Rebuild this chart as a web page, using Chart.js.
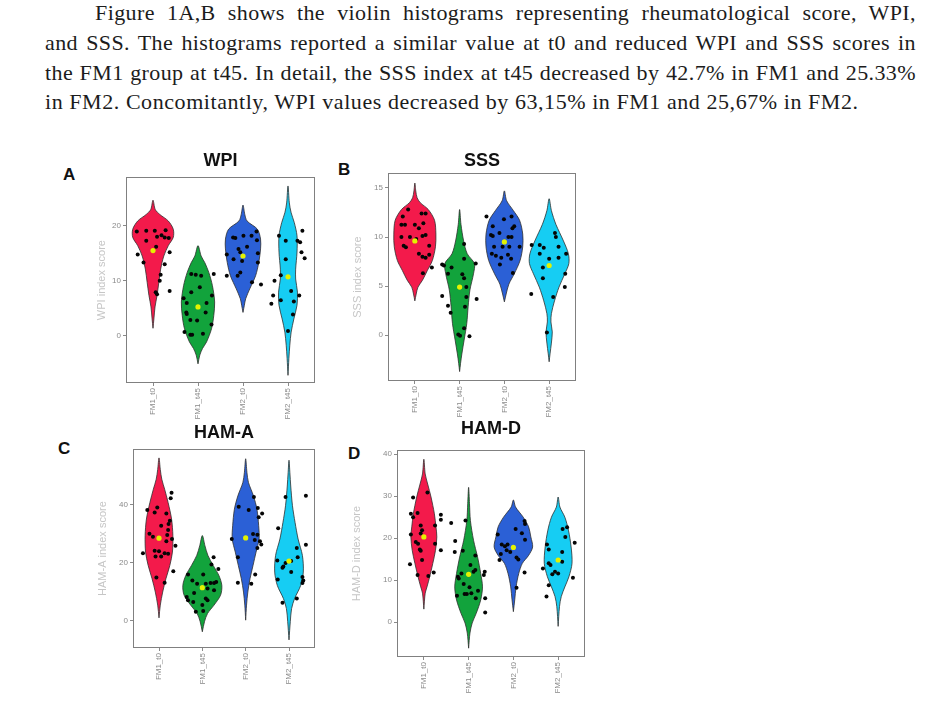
<!DOCTYPE html>
<html>
<head>
<meta charset="utf-8">
<script src="https://cdn.jsdelivr.net/npm/chart.js@4.4.0/dist/chart.umd.min.js"></script>
<style>
  body { margin: 0; background: #fff; width: 946px; height: 710px; position: relative; overflow: hidden; }
  .txt { position: absolute; left: 45px; width: 871px; font-family: "Liberation Serif", serif; font-size: 22px; line-height: 30px; letter-spacing: 0.56px; color: #1c1c1c; white-space: nowrap; }
  .just { text-align: justify; text-align-last: justify; white-space: normal; letter-spacing: 0.4px; }
  .lbl { position: absolute; font: bold 17px/1 "Liberation Sans", Arial, sans-serif; color: #111; }
  canvas { position: absolute; }
</style>
</head>
<body>
<div class="txt just" style="top:-2px; left:95px; width:821px;">Figure 1A,B shows the violin histograms representing rheumatological score, WPI,</div>
<div class="txt just" style="top:28px;">and SSS. The histograms reported a similar value at t0 and reduced WPI and SSS scores in</div>
<div class="txt just" style="top:58px;">the FM1 group at t45. In detail, the SSS index at t45 decreased by 42.7% in FM1 and 25.33%</div>
<div class="txt" style="top:87px;">in FM2. Concomitantly, WPI values decreased by 63,15% in FM1 and 25,67% in FM2.</div>

<div class="lbl" style="left:63px; top:166px;">A</div>
<div class="lbl" style="left:338px; top:161px;">B</div>
<div class="lbl" style="left:58px; top:440px;">C</div>
<div class="lbl" style="left:348px; top:445px;">D</div>

<canvas id="chartA" width="245" height="290" style="left:80px; top:140px;"></canvas>
<canvas id="chartB" width="246" height="290" style="left:340px; top:140px;"></canvas>
<canvas id="chartC" width="245" height="290" style="left:80px; top:410px;"></canvas>
<canvas id="chartD" width="255" height="295" style="left:340px; top:410px;"></canvas>

<script>
const groups = ['FM1_t0', 'FM1_t45', 'FM2_t0', 'FM2_t45'];
const groupColors = ['#f31a4b', '#12a33c', '#2b60d6', '#16cdf3'];

// violin outlines: [score, half width] from bottom tail to top tail
// dots: [jitter offset, score]

// A - WPI
const wpiTicks = [0, 10, 20];
const wpiMeans = [15.5, 5.2, 14.5, 10.7];
const wpiShape = [
  [[1.3, 0], [3.0, 0.02], [5.2, 0.045], [7.3, 0.09], [9.7, 0.13], [12.1, 0.17], [14.5, 0.24], [16.4, 0.34], [17.9, 0.45], [19.4, 0.45], [20.9, 0.34], [22.1, 0.15], [23.0, 0.05], [24.7, 0]],
  [[-5.2, 0], [-3.6, 0.04], [-2.4, 0.1], [-1.2, 0.19], [1.2, 0.3], [3.6, 0.35], [6.1, 0.37], [9.1, 0.32], [11.5, 0.24], [13.3, 0.15], [14.5, 0.07], [16.4, 0]],
  [[4.2, 0], [5.5, 0.03], [6.7, 0.06], [8.5, 0.15], [10.9, 0.28], [13.3, 0.35], [15.8, 0.39], [17.6, 0.39], [19.4, 0.32], [20.9, 0.09], [22.1, 0.04], [23.8, 0]],
  [[-7.3, 0], [-4.2, 0.02], [-1.8, 0.04], [0.6, 0.07], [3.0, 0.13], [5.5, 0.2], [7.9, 0.21], [10.3, 0.17], [12.1, 0.17], [15.2, 0.2], [18.2, 0.2], [20.6, 0.14], [22.4, 0.07], [24.2, 0.03], [27.3, 0]]
];
const wpiDots = [
  [[-0.36, 19.0], [-0.15, 19.1], [0.04, 19.1], [0.28, 19.2], [0.19, 18.3], [0.09, 18.0], [0.26, 17.9], [0.35, 17.8], [-0.15, 17.3], [0.07, 16.2], [-0.34, 14.8], [0.37, 15.2], [-0.21, 13.3], [0.26, 13.0], [0.17, 11.1], [0.15, 10.0], [0.06, 7.9], [0.09, 7.5], [0.37, 8.1]],
  [[-0.32, 6.8], [-0.15, 11.2], [-0.05, 11.1], [0.07, 10.9], [0.35, 11.2], [0.31, 7.3], [0.04, 8.8], [-0.15, 7.9], [-0.25, 5.9], [-0.26, 4.2], [-0.25, 3.9], [-0.02, 2.7], [-0.17, 2.8], [0.17, 4.2], [0.19, 5.9], [0.3, 2.0], [-0.3, 0.6], [-0.17, 0.1], [-0.13, 0.1], [0.11, 0.3]],
  [[-0.22, 17.9], [-0.17, 17.8], [0.01, 18.2], [0.19, 18.2], [0.3, 19.0], [0.31, 17.4], [0.09, 16.2], [-0.1, 15.8], [-0.36, 14.8], [-0.06, 15.2], [0.33, 15.0], [-0.21, 13.9], [-0.02, 13.6], [0.33, 13.3], [-0.36, 10.9], [-0.12, 10.9], [-0.06, 11.5], [0.2, 9.7], [0.4, 9.3]],
  [[-0.2, 18.2], [0.32, 19.1], [-0.05, 17.3], [0.21, 17.3], [0.27, 17.0], [0.3, 15.2], [0.37, 14.1], [-0.05, 13.9], [-0.3, 10.0], [-0.16, 11.0], [-0.33, 7.3], [-0.37, 5.8], [-0.16, 6.4], [0.07, 8.1], [0.25, 7.3], [0.13, 6.2], [0.11, 3.8], [0, 0.8]]
];

// B - SSS
const sssTicks = [0, 5, 10, 15];
const sssMeans = [9.6, 4.9, 9.5, 7.1];
const sssShape = [
  [[3.5, 0], [4.2, 0.03], [4.9, 0.07], [5.6, 0.17], [6.6, 0.28], [7.6, 0.39], [9.0, 0.46], [10.3, 0.47], [11.7, 0.44], [12.8, 0.3], [13.5, 0.12], [14.0, 0.05], [14.7, 0.02], [15.5, 0]],
  [[-3.7, 0], [-2.9, 0.02], [-1.9, 0.05], [-0.5, 0.1], [1.2, 0.16], [2.9, 0.19], [4.6, 0.23], [6.25, 0.31], [7.3, 0.33], [8.3, 0.17], [9.6, 0.09], [11.3, 0.03], [12.8, 0]],
  [[3.4, 0], [4.2, 0.04], [5.2, 0.1], [6.25, 0.22], [7.6, 0.35], [9.0, 0.41], [10.3, 0.41], [11.7, 0.34], [12.7, 0.2], [13.7, 0.05], [14.7, 0]],
  [[-2.7, 0], [-1.9, 0.02], [-0.8, 0.05], [0.34, 0.07], [1.35, 0.04], [2.2, 0.05], [3.5, 0.12], [4.9, 0.22], [6.25, 0.35], [7.3, 0.44], [8.3, 0.43], [9.6, 0.32], [11.3, 0.15], [12.7, 0.05], [13.9, 0]]
];
const sssDots = [
  [[-0.15, 12.8], [-0.27, 12.1], [0.15, 12.4], [0.24, 12.4], [-0.3, 11.25], [-0.22, 11.25], [0, 11.25], [0.09, 10.9], [0.19, 11.4], [-0.3, 10.0], [-0.11, 10.0], [0.17, 10.1], [0.24, 10.2], [-0.25, 9.1], [-0.2, 8.95], [0.03, 9.8], [0.32, 9.1], [0.09, 8.3], [0.17, 8.0], [0.24, 7.9], [0.32, 8.2], [0.38, 6.9], [0.18, 6.3]],
  [[-0.39, 7.2], [-0.35, 7.1], [-0.18, 6.9], [0.1, 7.8], [0.36, 7.3], [-0.26, 6.25], [0.06, 6.2], [0.1, 5.8], [0.15, 4.9], [-0.39, 4.0], [0.15, 3.9], [0.38, 3.7], [-0.26, 3.0], [-0.2, 2.3], [0.12, 2.9], [0.1, 0.7], [-0.03, 0.07], [0.01, -0.05], [0.22, -0.1], [0.1, 9.3]],
  [[-0.4, 12.1], [-0.01, 11.8], [0.16, 12.1], [-0.26, 11.1], [0.22, 11.1], [0.18, 10.9], [-0.3, 10.2], [-0.26, 10.1], [-0.11, 10.4], [0.09, 10.0], [0.16, 10.0], [0.34, 9.0], [-0.23, 9.0], [-0.04, 9.0], [0.11, 9.0], [-0.19, 8.1], [0.08, 8.2], [-0.07, 7.9], [0.15, 7.8], [-0.1, 7.2], [-0.28, 8.3], [0.19, 6.35]],
  [[-0.21, 9.2], [-0.39, 9.2], [-0.12, 8.9], [-0.21, 8.3], [0.13, 10.4], [0.15, 10.0], [0.21, 9.0], [0.38, 8.3], [0, 7.8], [0.21, 7.9], [-0.14, 6.9], [-0.14, 5.8], [0.36, 6.25], [0.35, 4.9], [0.09, 3.9], [-0.4, 4.2], [-0.05, 0.27]]
];

// C - HAM-A
const hamaTicks = [0, 20, 40];
const hamaMeans = [28.5, 11.4, 28.6, 20.6];
const hamaShape = [
  [[1.0, 0], [5.4, 0.03], [9.9, 0.085], [14.5, 0.16], [19.1, 0.25], [23.7, 0.31], [29.4, 0.32], [35.1, 0.29], [40.8, 0.21], [45.4, 0.13], [48.8, 0.065], [52.2, 0.03], [56.2, 0]],
  [[-3.8, 0], [-0.3, 0.05], [2.5, 0.12], [5.4, 0.27], [8.8, 0.42], [12.2, 0.45], [15.7, 0.38], [19.1, 0.25], [22.5, 0.13], [25.9, 0.06], [29.4, 0]],
  [[0.2, 0], [5.4, 0.02], [9.9, 0.05], [14.5, 0.1], [19.1, 0.17], [23.7, 0.24], [28.2, 0.31], [32.8, 0.3], [38.5, 0.26], [43.1, 0.18], [47.7, 0.065], [51.1, 0.03], [55.9, 0]],
  [[-6.6, 0], [-0.3, 0.03], [4.2, 0.06], [7.7, 0.13], [12.2, 0.27], [16.8, 0.33], [22.5, 0.31], [28.2, 0.21], [33.9, 0.14], [39.7, 0.08], [46.5, 0.04], [51.1, 0.02], [55.4, 0]]
];
const hamaDots = [
  [[-0.27, 38.2], [-0.04, 39.1], [-0.1, 37.4], [0.17, 37.0], [0.29, 44.2], [0.27, 42.3], [0.25, 34.5], [0.22, 33.4], [0.05, 32.8], [0.21, 31.3], [0.19, 29.6], [0.3, 28.2], [0.17, 27.4], [-0.14, 29.0], [0.38, 25.9], [-0.37, 23.3], [-0.1, 24.2], [0, 24.0], [0.13, 23.3], [0.21, 23.1], [-0.08, 22.2], [0.05, 22.2], [0.33, 17.1], [-0.06, 14.9], [0.13, 13.1], [-0.22, 30.0]],
  [[-0.33, 16.0], [-0.23, 13.9], [0.02, 16.0], [0.26, 21.9], [0.21, 19.4], [0.37, 17.9], [0.08, 12.8], [0.19, 13.0], [0.27, 13.0], [0.32, 13.4], [-0.12, 12.8], [0.12, 11.1], [0.27, 10.5], [-0.19, 9.6], [-0.36, 8.2], [-0.33, 7.1], [0.08, 7.7], [0.12, 7.1], [-0.21, 6.5], [0, 5.4], [-0.15, 3.1], [0.02, 3.4]],
  [[-0.16, 39.3], [0.19, 42.7], [0.07, 38.2], [0.28, 38.9], [0.38, 37.0], [0.3, 35.7], [0.17, 29.9], [0.27, 29.7], [-0.32, 28.2], [0.21, 27.9], [0.33, 27.4], [0.36, 26.3], [0.27, 25.1], [-0.18, 21.9], [0.22, 16.0], [-0.18, 13.1], [0.13, 12.8]],
  [[-0.25, 31.9], [-0.08, 42.7], [0.39, 43.1], [0.39, 26.2], [0.18, 25.1], [0.2, 21.9], [0.05, 20.6], [-0.08, 19.9], [-0.13, 18.7], [-0.15, 18.3], [-0.27, 20.8], [-0.26, 14.2], [0.31, 15.1], [0.33, 13.9], [0.31, 13.0], [0.05, 16.8], [0.18, 7.7], [-0.15, 6.2]]
];

// D - HAM-D
const hamdTicks = [0, 10, 20, 30, 40];
const hamdMeans = [20.3, 11.4, 17.8, 14.8];
const hamdShape = [
  [[3.1, 0], [6.9, 0.03], [8.4, 0.07], [10.8, 0.13], [14.0, 0.2], [17.1, 0.26], [20.3, 0.29], [22.7, 0.27], [25.8, 0.235], [29.8, 0.16], [32.9, 0.085], [35.3, 0.03], [38.8, 0]],
  [[-6.2, 0], [-2.6, 0.03], [-0.2, 0.08], [2.1, 0.17], [5.3, 0.27], [8.4, 0.31], [11.6, 0.27], [15.5, 0.2], [19.5, 0.11], [24.2, 0.04], [28.2, 0.02], [32.1, 0]],
  [[2.5, 0], [5.3, 0.03], [8.4, 0.06], [11.6, 0.12], [14.0, 0.2], [15.9, 0.34], [17.9, 0.43], [20.3, 0.39], [22.7, 0.34], [25.0, 0.22], [27.4, 0.05], [29.1, 0]],
  [[-1.0, 0], [3.7, 0.03], [6.1, 0.07], [8.4, 0.15], [10.8, 0.24], [14.0, 0.31], [17.9, 0.29], [21.9, 0.23], [25.0, 0.15], [27.4, 0.04], [29.8, 0]]
];
const hamdDots = [
  [[-0.24, 29.7], [0.08, 30.9], [-0.29, 25.8], [-0.24, 25.0], [-0.14, 26.0], [0.38, 25.6], [0.38, 24.4], [0.25, 23.0], [-0.07, 23.0], [-0.04, 21.9], [-0.07, 21.1], [-0.29, 20.9], [-0.18, 19.1], [-0.13, 18.7], [0.25, 18.7], [-0.09, 17.3], [-0.07, 17.0], [0.38, 17.1], [-0.04, 14.8], [-0.31, 13.8], [-0.14, 11.2], [0.1, 11.0], [0.22, 11.8]],
  [[-0.39, 23.6], [-0.07, 24.2], [-0.3, 19.3], [-0.31, 16.7], [-0.13, 17.0], [0.15, 15.9], [0.04, 13.6], [-0.24, 10.8], [-0.22, 10.4], [-0.16, 11.6], [0.11, 12.0], [0.15, 12.4], [0.34, 11.2], [0.36, 12.0], [-0.11, 9.1], [0.02, 8.3], [-0.26, 6.3], [-0.09, 6.7], [0.06, 6.9], [-0.04, 6.7], [0.21, 7.5], [0.16, 5.7], [0.37, 5.7], [0.37, 2.3]],
  [[-0.35, 20.9], [-0.26, 18.5], [-0.19, 18.1], [-0.13, 18.5], [0.05, 22.2], [0.26, 23.4], [0.25, 24.1], [0.19, 21.2], [0.26, 19.6], [-0.15, 17.1], [-0.07, 16.7], [-0.28, 16.2], [-0.31, 14.8], [0.07, 15.4], [0.11, 14.9], [0.25, 11.8], [0.07, 8.2]],
  [[-0.25, 18.5], [-0.21, 17.3], [-0.21, 14.0], [-0.34, 12.8], [-0.17, 13.6], [-0.07, 12.0], [-0.13, 11.4], [0, 11.6], [0.09, 16.7], [0.09, 14.4], [0.1, 22.2], [0.2, 22.6], [0.16, 20.3], [0.37, 18.9], [0.33, 10.6], [-0.21, 8.8], [-0.26, 6.1]]
];

const sansFont = '"Liberation Sans", Arial, sans-serif';

const framePlugin = {
  id: 'frame',
  afterDatasetsDraw(chart) {
    const { ctx, chartArea: a } = chart;
    ctx.save();
    ctx.strokeStyle = '#808080';
    ctx.lineWidth = 1;
    ctx.strokeRect(Math.round(a.left) + 0.5, Math.round(a.top) + 0.5, Math.round(a.width) - 1, Math.round(a.height) - 1);
    ctx.restore();
  }
};

function violinPoints(center, shape) {
  const right = shape.map(([v, w]) => ({ x: center + w, y: v }));
  const left = shape.slice().reverse().map(([v, w]) => ({ x: center - w, y: v }));
  return right.concat(left.slice(1));
}

function makePanel(id, p) {
  const datasets = [];
  p.shape.forEach((shape, i) => {
    datasets.push({
      type: 'line',
      data: violinPoints(i + 1, shape),
      fill: 'shape',
      backgroundColor: groupColors[i],
      borderColor: '#2e2e2e',
      borderWidth: 0.8,
      pointRadius: 0,
      tension: 0.3,
      order: 3
    });
  });
  p.dots.forEach((dots, i) => {
    datasets.push({
      data: dots.map(([dx, v]) => ({ x: i + 1 + dx, y: v })),
      backgroundColor: '#050505',
      borderWidth: 0,
      pointRadius: 2,
      order: 2
    });
  });
  datasets.push({
    data: p.means.map((v, i) => ({ x: i + 1, y: v })),
    backgroundColor: '#e4f200',
    borderWidth: 0,
    pointRadius: 2.6,
    order: 1
  });

  return new Chart(document.getElementById(id), {
    type: 'scatter',
    data: { datasets },
    options: {
      responsive: false,
      animation: false,
      devicePixelRatio: 1,
      events: [],
      layout: { padding: { left: 0, right: 10, top: 0, bottom: 0 } },
      plugins: {
        legend: { display: false },
        tooltip: { enabled: false },
        title: {
          display: true,
          text: p.title,
          fullSize: false,
          color: '#111',
          font: { family: sansFont, size: 18, weight: 'bold' },
          padding: p.titlePad
        }
      },
      scales: {
        x: {
          type: 'linear',
          min: 0.4,
          max: 4.6,
          afterFit: s => { s.height = p.xAxisH; },
          afterBuildTicks: s => { s.ticks = groups.map((g, i) => ({ value: i + 1 })); },
          ticks: {
            callback: v => groups[v - 1],
            minRotation: 90,
            maxRotation: 90,
            autoSkip: false,
            padding: 2,
            color: '#8a8a8a',
            font: { family: sansFont, size: 8 }
          },
          grid: { drawOnChartArea: false, tickLength: 3, color: '#8a8a8a' },
          border: { display: false }
        },
        y: {
          min: p.yMin,
          max: p.yMax,
          afterFit: s => { s.width = p.yAxisW; },
          afterBuildTicks: s => { s.ticks = p.ticks.map(v => ({ value: v })); },
          ticks: {
            padding: 2,
            color: '#8a8a8a',
            font: { family: sansFont, size: 8 }
          },
          grid: { drawOnChartArea: false, tickLength: 3, color: '#8a8a8a' },
          border: { display: false },
          title: {
            display: true,
            text: p.yTitle,
            color: '#c6c6c6',
            font: { family: sansFont, size: 11 },
            padding: { top: p.yTitlePad, bottom: 0 }
          }
        }
      }
    },
    plugins: [framePlugin]
  });
}

makePanel('chartA', {
  title: 'WPI', yTitle: 'WPI index score',
  shape: wpiShape, dots: wpiDots, means: wpiMeans, ticks: wpiTicks,
  yMin: -8.7, yMax: 28.9, yAxisW: 46, xAxisH: 47, yTitlePad: 15,
  titlePad: { top: 9.8, bottom: 5.8 }
});
makePanel('chartB', {
  title: 'SSS', yTitle: 'SSS index score',
  shape: sssShape, dots: sssDots, means: sssMeans, ticks: sssTicks,
  yMin: -4.66, yMax: 16.5, yAxisW: 48, xAxisH: 49, yTitlePad: 11,
  titlePad: { top: 9.8, bottom: 1.8 }
});
makePanel('chartC', {
  title: 'HAM-A', yTitle: 'HAM-A index score',
  shape: hamaShape, dots: hamaDots, means: hamaMeans, ticks: hamaTicks,
  yMin: -9.4, yMax: 59.2, yAxisW: 53, xAxisH: 52, yTitlePad: 16,
  titlePad: { top: 11.8, bottom: 5.8 }
});
makePanel('chartD', {
  title: 'HAM-D', yTitle: 'HAM-D index score',
  shape: hamdShape, dots: hamdDots, means: hamdMeans, ticks: hamdTicks,
  yMin: -8.3, yMax: 40.95, yAxisW: 57, xAxisH: 48, yTitlePad: 10,
  titlePad: { top: 7.8, bottom: 10.8 }
});
</script>
</body>
</html>
